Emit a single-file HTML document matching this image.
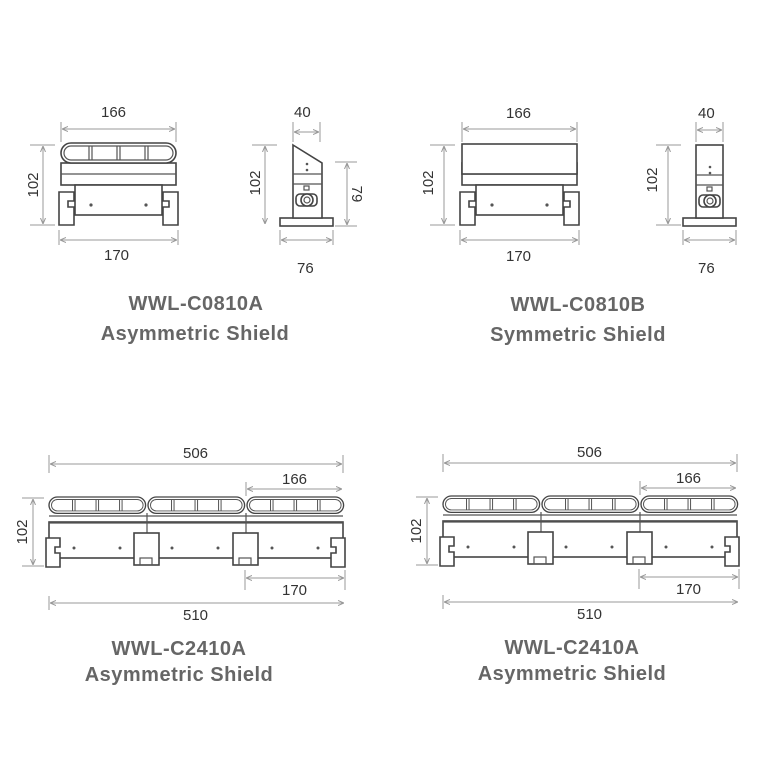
<!DOCTYPE html>
<html><head><meta charset="utf-8"><style>
html,body{margin:0;padding:0;background:#fff;}
svg{display:block}
.t{font-family:"Liberation Sans",sans-serif;font-size:15px;fill:#333}
.h{font-family:"Liberation Sans",sans-serif;font-size:20px;font-weight:bold;fill:#666;text-anchor:middle;letter-spacing:0.5px}
.d{stroke:#999;stroke-width:1;fill:none}
.o{stroke:#444;stroke-width:1.6;fill:#fff}
.l{stroke:#555;stroke-width:1.2;fill:none}
</style></head><body>
<svg width="759" height="758" viewBox="0 0 759 758" xmlns="http://www.w3.org/2000/svg">
<defs>
<marker id="a" markerWidth="6" markerHeight="6" refX="6" refY="3" orient="auto-start-reverse"><path d="M0,0.5L6,3L0,5.5" fill="none" stroke="#999"/></marker>
<g id="body">
 <rect class="o" x="0" y="20" width="115" height="22"/>
 <line class="l" x1="0" y1="31" x2="115" y2="31"/>
 <rect class="o" x="14" y="42" width="87" height="30"/>
 <path class="o" d="M-2,49h15v9h-6v6h6v18h-15z"/>
 <path class="o" d="M117,49h-15v9h6v6h-6v18h15z"/>
 <circle cx="30" cy="62" r="1.6" fill="#555"/><circle cx="85" cy="62" r="1.6" fill="#555"/>
</g>
<g id="lens">
 <rect class="o" x="0" y="0" width="115" height="20" rx="10"/>
 <rect class="l" x="3" y="3" width="109" height="14" rx="7"/>
 <path class="l" d="M28,3v14M31,3v14M56,3v14M59,3v14M84,3v14M87,3v14"/>
</g>
<g id="side">
 <rect class="o" x="-13" y="73" width="53" height="8"/>
 <rect class="o" x="0" y="0" width="27" height="73"/>
 <line class="l" x1="0" y1="30" x2="27" y2="30"/>
 <line class="l" x1="0" y1="40" x2="27" y2="40"/>
 <circle cx="14" cy="22" r="1.3" fill="#555"/><circle cx="14" cy="28" r="1.3" fill="#555"/>
 <rect class="l" x="11" y="42" width="5" height="4"/>
 <rect class="o" x="3" y="50" width="21" height="12" rx="4"/>
 <circle class="o" cx="14" cy="56" r="6"/><circle class="l" cx="14" cy="56" r="3"/>
</g>
</defs>

<text class="t" x="101" y="117">166</text>
<path class="d" d="M61,122v20M176,122v20"/>
<line class="d" x1="62" y1="129" x2="175" y2="129" marker-start="url(#a)" marker-end="url(#a)"/>
<use href="#body" x="61" y="143"/>
<use href="#lens" x="61" y="143"/>
<path class="d" d="M30,145h25M30,225h25"/>
<line class="d" x1="43" y1="146" x2="43" y2="224" marker-start="url(#a)" marker-end="url(#a)"/>
<text class="t" transform="translate(38,185) rotate(-90)" text-anchor="middle">102</text>
<path class="d" d="M59,230v15M178,230v15"/>
<line class="d" x1="60" y1="240" x2="177" y2="240" marker-start="url(#a)" marker-end="url(#a)"/>
<text class="t" x="104" y="260">170</text>

<text class="t" x="294" y="117">40</text>
<path class="d" d="M293,122v20M320,122v20"/>
<line class="d" x1="294" y1="132" x2="319" y2="132" marker-start="url(#a)" marker-end="url(#a)"/>
<rect class="o" x="280" y="218" width="53" height="8"/>
<path class="o" d="M293,145L322,163V218H293Z"/>
<path class="l" d="M293,174h29M293,184h29"/>
<circle cx="307" cy="164" r="1.3" fill="#555"/><circle cx="307" cy="170" r="1.3" fill="#555"/>
<rect class="l" x="304" y="186" width="5" height="4"/>
<rect class="o" x="296" y="194" width="21" height="12" rx="4"/>
<circle class="o" cx="307" cy="200" r="6"/><circle class="l" cx="307" cy="200" r="3"/>
<path class="d" d="M252,145h25"/>
<line class="d" x1="265" y1="146" x2="265" y2="224" marker-start="url(#a)" marker-end="url(#a)"/>
<text class="t" transform="translate(260,183) rotate(-90)" text-anchor="middle">102</text>
<path class="d" d="M335,162h22M335,226h22"/>
<line class="d" x1="347" y1="163" x2="347" y2="225" marker-start="url(#a)" marker-end="url(#a)"/>
<text class="t" transform="translate(352,194) rotate(90)" text-anchor="middle">79</text>
<path class="d" d="M280,230v15M333,230v15"/>
<line class="d" x1="281" y1="240" x2="332" y2="240" marker-start="url(#a)" marker-end="url(#a)"/>
<text class="t" x="297" y="273">76</text>

<text class="h" x="196" y="310">WWL-C0810A</text>
<text class="h" x="195" y="340">Asymmetric Shield</text>

<text class="t" x="506" y="118">166</text>
<path class="d" d="M462,122v20M577,122v20"/>
<line class="d" x1="463" y1="129" x2="576" y2="129" marker-start="url(#a)" marker-end="url(#a)"/>
<use href="#body" x="462" y="143"/>
<rect class="o" x="462" y="144" width="115" height="30"/>
<path class="d" d="M430,145h25M430,225h25"/>
<line class="d" x1="444" y1="146" x2="444" y2="224" marker-start="url(#a)" marker-end="url(#a)"/>
<text class="t" transform="translate(433,183) rotate(-90)" text-anchor="middle">102</text>
<path class="d" d="M460,230v15M579,230v15"/>
<line class="d" x1="461" y1="240" x2="578" y2="240" marker-start="url(#a)" marker-end="url(#a)"/>
<text class="t" x="506" y="261">170</text>

<text class="t" x="698" y="118">40</text>
<path class="d" d="M696,122v20M723,122v20"/>
<line class="d" x1="697" y1="130" x2="722" y2="130" marker-start="url(#a)" marker-end="url(#a)"/>
<use href="#side" x="696" y="145"/>
<path class="d" d="M656,145h25M656,225h25"/>
<line class="d" x1="668" y1="146" x2="668" y2="224" marker-start="url(#a)" marker-end="url(#a)"/>
<text class="t" transform="translate(657,180) rotate(-90)" text-anchor="middle">102</text>
<path class="d" d="M683,230v15M736,230v15"/>
<line class="d" x1="684" y1="240" x2="735" y2="240" marker-start="url(#a)" marker-end="url(#a)"/>
<text class="t" x="698" y="273">76</text>

<text class="h" x="578" y="311">WWL-C0810B</text>
<text class="h" x="578" y="341">Symmetric Shield</text>

<g id="long">
<text class="t" x="183" y="458">506</text>
<path class="d" d="M49,455v18M343,455v18"/>
<line class="d" x1="50" y1="464" x2="342" y2="464" marker-start="url(#a)" marker-end="url(#a)"/>
<text class="t" x="282" y="484">166</text>
<path class="d" d="M246,482v14"/>
<line class="d" x1="247" y1="489" x2="342" y2="489" marker-start="url(#a)" marker-end="url(#a)"/>
<rect class="o" x="49" y="522" width="294" height="36"/>
<line class="l" x1="49" y1="516" x2="343" y2="516"/>
<line class="l" x1="49" y1="523" x2="343" y2="523"/>
<g transform="translate(49,497) scale(0.84,0.82)"><use href="#lens"/></g>
<g transform="translate(148,497) scale(0.84,0.82)"><use href="#lens"/></g>
<g transform="translate(247,497) scale(0.84,0.82)"><use href="#lens"/></g>
<path class="l" d="M147,513v22M246,513v22"/>
<path class="o" d="M46,538h14v9h-5v6h5v14h-14z"/>
<path class="o" d="M345,538h-14v9h5v6h-5v14h14z"/>
<rect class="o" x="134" y="533" width="25" height="32"/><rect class="l" x="140" y="558" width="12" height="7"/>
<rect class="o" x="233" y="533" width="25" height="32"/><rect class="l" x="239" y="558" width="12" height="7"/>
<circle cx="74" cy="548" r="1.5" fill="#555"/><circle cx="120" cy="548" r="1.5" fill="#555"/>
<circle cx="172" cy="548" r="1.5" fill="#555"/><circle cx="218" cy="548" r="1.5" fill="#555"/>
<circle cx="272" cy="548" r="1.5" fill="#555"/><circle cx="318" cy="548" r="1.5" fill="#555"/>
<path class="d" d="M22,498h22M22,566h22"/>
<line class="d" x1="33" y1="499" x2="33" y2="565" marker-start="url(#a)" marker-end="url(#a)"/>
<text class="t" transform="translate(27,532) rotate(-90)" text-anchor="middle">102</text>
<path class="d" d="M245,570v20M345,570v20"/>
<line class="d" x1="246" y1="578" x2="344" y2="578" marker-start="url(#a)" marker-end="url(#a)"/>
<text class="t" x="282" y="595">170</text>
<path class="d" d="M49,596v14"/>
<line class="d" x1="50" y1="603" x2="344" y2="603" marker-start="url(#a)" marker-end="url(#a)"/>
<text class="t" x="183" y="620">510</text>
</g>
<text class="h" x="179" y="655">WWL-C2410A</text>
<text class="h" x="179" y="681">Asymmetric Shield</text>

<use href="#long" x="394" y="-1"/>
<text class="h" x="572" y="654">WWL-C2410A</text>
<text class="h" x="572" y="680">Asymmetric Shield</text>
</svg>
</body></html>
